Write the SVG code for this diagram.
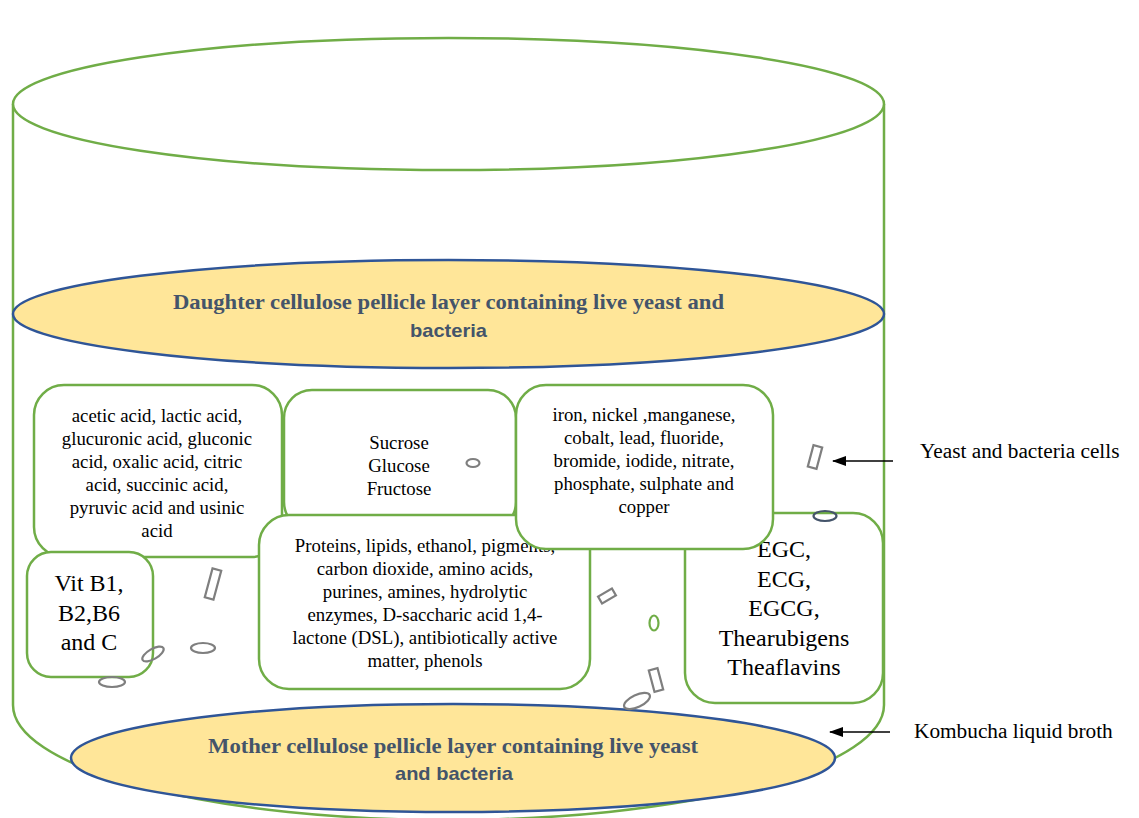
<svg xmlns="http://www.w3.org/2000/svg" width="1139" height="818" viewBox="0 0 1139 818">
<defs>
<style>
.cyl{fill:none;stroke:#70AD47;stroke-width:2.5}
.box{fill:#fff;stroke:#70AD47;stroke-width:2.5}
.pel{fill:#FFE699;stroke:#2F5597;stroke-width:2.5}
.t{font-family:"Liberation Serif",serif;fill:#000;text-anchor:middle}
.s15{font-size:18.8px}
.s21{font-size:24px}
.pt{font-family:"Liberation Serif",serif;font-weight:bold;font-size:22px;fill:#44546A;text-anchor:middle}
.ps{font-family:"Liberation Sans",sans-serif;font-weight:bold;font-size:19px;fill:#44546A;text-anchor:middle}
.cell{fill:none;stroke:#7F7F7F;stroke-width:2.2}
.lbl{font-family:"Liberation Serif",serif;font-size:21.3px;fill:#000}
.arr{stroke:#000;stroke-width:1.3;fill:none}
</style>
<marker id="ah" markerWidth="14" markerHeight="10" refX="13" refY="5" orient="auto" markerUnits="userSpaceOnUse">
<path d="M0,0 L14,5 L0,10 Z" fill="#000"/>
</marker>
</defs>
<rect width="1139" height="818" fill="#fff"/>
<g id="cylinder">
<path class="cyl" d="M13,104 L13,705 A435.5,115 0 0 0 884,705 L884,104"/>
<ellipse class="cyl" cx="448.5" cy="104" rx="435.5" ry="66" style="fill:#fff"/>
</g>
<g id="daughter-pellicle">
<ellipse class="pel" cx="448.5" cy="314" rx="435.5" ry="54"/>
<text class="pt" x="448.5" y="309" textLength="551" lengthAdjust="spacingAndGlyphs">Daughter cellulose pellicle layer containing live yeast and</text>
<text class="ps" x="448.5" y="337" textLength="77" lengthAdjust="spacingAndGlyphs">bacteria</text>
</g>
<g id="mother-pellicle">
<ellipse class="pel" cx="453" cy="758" rx="382" ry="54"/>
<text class="pt" x="453" y="753" textLength="490" lengthAdjust="spacingAndGlyphs">Mother cellulose pellicle layer containing live yeast</text>
<text class="ps" x="454" y="780" textLength="118" lengthAdjust="spacingAndGlyphs">and bacteria</text>
</g>
<g id="acids">
<rect class="box" x="34" y="385" width="248" height="172" rx="30"/>
<text class="t s15" x="157"><tspan x="157" y="422">acetic acid, lactic acid,</tspan><tspan x="157" y="445">glucuronic acid, gluconic</tspan><tspan x="157" y="468">acid, oxalic acid, citric</tspan><tspan x="157" y="491">acid, succinic acid,</tspan><tspan x="157" y="514">pyruvic acid and usinic</tspan><tspan x="157" y="537">acid</tspan></text>
</g>
<g id="vitamins">
<rect class="box" x="27" y="552" width="126" height="125" rx="24"/>
<text class="t s21" x="89"><tspan x="89" y="591">Vit B1,</tspan><tspan x="89" y="620.5">B2,B6</tspan><tspan x="89" y="650">and C</tspan></text>
</g>
<g id="sugars">
<rect class="box" x="284" y="390" width="232" height="140" rx="28"/>
<text class="t s15" x="399"><tspan x="399" y="449">Sucrose</tspan><tspan x="399" y="472">Glucose</tspan><tspan x="399" y="495">Fructose</tspan></text>
</g>
<g id="proteins">
<rect class="box" x="259" y="515" width="331" height="174" rx="30"/>
<text class="t s15" x="425"><tspan x="425" y="552">Proteins, lipids, ethanol, pigments,</tspan><tspan x="425" y="575">carbon dioxide, amino acids,</tspan><tspan x="425" y="598">purines, amines, hydrolytic</tspan><tspan x="425" y="621">enzymes, D-saccharic acid 1,4-</tspan><tspan x="425" y="644">lactone (DSL), antibiotically active</tspan><tspan x="425" y="667">matter, phenols</tspan></text>
</g>
<g id="catechins">
<rect class="box" x="685" y="513" width="198" height="190" rx="30"/>
<text class="t s21" x="784"><tspan x="784" y="557">EGC,</tspan><tspan x="784" y="586.5">ECG,</tspan><tspan x="784" y="616">EGCG,</tspan><tspan x="784" y="645.5">Thearubigens</tspan><tspan x="784" y="675">Theaflavins</tspan></text>
</g>
<g id="minerals">
<rect class="box" x="516" y="385" width="257" height="164" rx="30"/>
<text class="t s15" x="644"><tspan x="644" y="421">iron, nickel ,manganese,</tspan><tspan x="644" y="444">cobalt, lead, fluoride,</tspan><tspan x="644" y="467">bromide, iodide, nitrate,</tspan><tspan x="644" y="490">phosphate, sulphate and</tspan><tspan x="644" y="513">copper</tspan></text>
</g>
<g id="cells">
<rect class="cell" x="-4.5" y="-15" width="9" height="30" transform="translate(213,584) rotate(15)"/>
<ellipse class="cell" cx="0" cy="0" rx="12" ry="5" transform="translate(153,654) rotate(-30)"/>
<ellipse class="cell" cx="203" cy="648" rx="12" ry="5"/>
<ellipse class="cell" cx="112" cy="682" rx="13" ry="5"/>
<ellipse class="cell" cx="473" cy="463" rx="6.5" ry="4"/>
<rect class="cell" x="-4.5" y="-11" width="9" height="22" transform="translate(815,457) rotate(15)"/>
<ellipse class="cell" cx="825" cy="516" rx="11.5" ry="5" style="stroke:#44546A"/>
<rect class="cell" x="-8" y="-4" width="16" height="8" transform="translate(607,596) rotate(-30)"/>
<ellipse class="cell" cx="654" cy="623" rx="4.5" ry="7.5" style="stroke:#70AD47"/>
<rect class="cell" x="-4.5" y="-11" width="9" height="22" transform="translate(656,680) rotate(-15)"/>
<ellipse class="cell" cx="0" cy="0" rx="14" ry="6" transform="translate(637,701) rotate(-25)"/>
</g>
<g id="connectors">
<line class="arr" x1="893" y1="461" x2="833" y2="461" marker-end="url(#ah)"/>
<line class="arr" x1="890" y1="732" x2="830" y2="732" marker-end="url(#ah)"/>
</g>
<g id="labels">
<text class="lbl" x="920" y="458">Yeast and bacteria cells</text>
<text class="lbl" x="914" y="738">Kombucha liquid broth</text>
</g>
</svg>
